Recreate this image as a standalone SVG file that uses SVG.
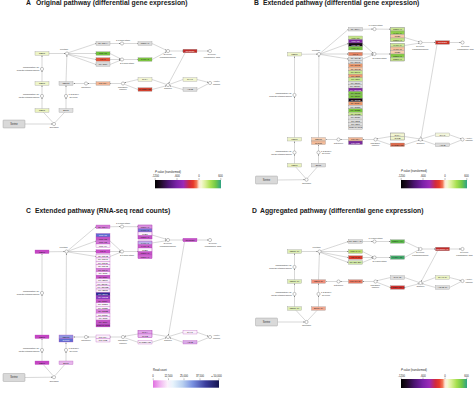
<svg xmlns="http://www.w3.org/2000/svg" width="474" height="394" viewBox="0 0 474 394">
<style>
text{font-family:"Liberation Sans",Arial,Helvetica,sans-serif}
.ti{font-size:6.8px;font-weight:bold;fill:#1a1a1a}
.ml{font-size:2.35px;fill:#3a3a3a}
.mid{text-anchor:middle}
.end{text-anchor:end}
.bx rect{stroke:#8a8a8a;stroke-width:.3}
.bx text{font-size:2.2px;fill:#222;text-anchor:middle}
.bx text.w{fill:#fff}
.pk rect{stroke:#b24cb8}
.fr{fill:none;stroke:#79ab45;stroke-width:.4}
.fm{fill:none;stroke:#9c3aa6;stroke-width:.4}
.met circle{fill:#fff;stroke:#555;stroke-width:.35}
.e line{stroke:#8f8f8f;stroke-width:.35;fill:none}
.e line.a{marker-end:url(#ar)}
.lg text{font-size:2.7px;fill:#222}
.lg line{stroke:#333;stroke-width:.3}
.ser rect{fill:#d9d9d9;stroke:#8a8a8a;stroke-width:.35}
.ser text{font-size:2.6px;fill:#333;text-anchor:middle}
</style>
<defs>
<marker id="ar" viewBox="0 0 4 4" refX="3.6" refY="2" markerWidth="1.5" markerHeight="1.5" markerUnits="userSpaceOnUse" orient="auto"><path d="M0,0.3 L4,2 L0,3.7z" fill="#707070"/></marker>
<linearGradient id="pv" x1="0" y1="0" x2="1" y2="0">
<stop offset="0" stop-color="#000"/><stop offset=".08" stop-color="#1c0a22"/><stop offset=".2" stop-color="#4a1470"/><stop offset=".33" stop-color="#7a22a8"/><stop offset=".43" stop-color="#9a2ab8"/><stop offset=".52" stop-color="#d02a40"/><stop offset=".58" stop-color="#e83a2a"/><stop offset=".63" stop-color="#f27a58"/><stop offset=".667" stop-color="#fde8d8"/><stop offset=".7" stop-color="#f6f8d4"/><stop offset=".76" stop-color="#dcf09a"/><stop offset=".84" stop-color="#a8e050"/><stop offset=".92" stop-color="#70c848"/><stop offset="1" stop-color="#2ea284"/>
</linearGradient>
<linearGradient id="rc" x1="0" y1="0" x2="1" y2="0">
<stop offset="0" stop-color="#e070e0"/><stop offset=".1" stop-color="#f0b0f0"/><stop offset=".22" stop-color="#fbf0fb"/><stop offset=".3" stop-color="#e8f4fc"/><stop offset=".45" stop-color="#b8d0f0"/><stop offset=".6" stop-color="#7890e0"/><stop offset=".8" stop-color="#3a3c9c"/><stop offset="1" stop-color="#141450"/>
</linearGradient>
</defs>
<rect width="474" height="394" fill="#fff"/>

<!-- ================= PANEL A ================= -->
<g id="panelA">
<text class="ti" x="26" y="4.8">A</text>
<text class="ti" x="36" y="4.8">Original pathway (differential gene expression)</text>
<g id="A-connectors" class="e">
<line class="a" x1="25" y1="124" x2="52.3" y2="124"/>
<line x1="53" y1="122.6" x2="43.5" y2="112.4"/>
<line class="a" x1="42" y1="108.8" x2="42" y2="97.7"/>
<line class="a" x1="42" y1="94.4" x2="42" y2="85.4"/>
<line class="a" x1="42" y1="81.8" x2="42" y2="70.7"/>
<line class="a" x1="42" y1="67.4" x2="42" y2="55.4"/>
<line class="a" x1="49" y1="53.5" x2="65.3" y2="53.5"/>
<line x1="55" y1="122.6" x2="64.5" y2="112.4"/>
<line class="a" x1="66" y1="108.8" x2="66" y2="97.7"/>
<line class="a" x1="66" y1="94.4" x2="66" y2="85.4"/>
<line class="a" x1="66" y1="81.8" x2="66.9" y2="55.2"/>
<line class="a" x1="84.3" y1="83.5" x2="73.6" y2="83.5"/>
<line class="a" x1="96" y1="83.5" x2="87.7" y2="83.5"/>
<line class="a" x1="121.3" y1="83.5" x2="110.1" y2="83.5"/>
<line class="a" x1="138" y1="79.5" x2="124.5" y2="82.7"/>
<line x1="124.5" y1="84.3" x2="138" y2="89.5"/>
<line x1="166.4" y1="84.4" x2="152" y2="79.5"/>
<line class="a" x1="152" y1="89.5" x2="166.4" y2="85.8"/>
<line x1="169.6" y1="84.4" x2="183" y2="79.5"/>
<line class="a" x1="197" y1="79.5" x2="208.4" y2="82.4"/>
<line x1="208.4" y1="83.7" x2="197" y2="89.5"/>
<line class="a" x1="183" y1="89.5" x2="169.6" y2="85.8"/>
<line class="a" x1="185" y1="53" x2="168.7" y2="83.5"/>
<line class="a" x1="68.4" y1="52.7" x2="96" y2="43.5"/>
<line class="a" x1="68.7" y1="53.5" x2="96" y2="53.5"/>
<line class="a" x1="68.5" y1="54.2" x2="96" y2="59.5"/>
<line class="a" x1="68.3" y1="54.6" x2="96" y2="64.5"/>
<line class="a" x1="110" y1="43.5" x2="120.3" y2="43.5"/>
<line class="a" x1="110" y1="53.5" x2="120.5" y2="58.8"/>
<line class="a" x1="110" y1="59.5" x2="120.3" y2="59.5"/>
<line class="a" x1="110" y1="64.5" x2="120.5" y2="60.2"/>
<line class="a" x1="123.7" y1="43.5" x2="138" y2="43.5"/>
<line class="a" x1="123.7" y1="59.5" x2="138" y2="59.5"/>
<line class="a" x1="152" y1="43.5" x2="166.5" y2="50.3"/>
<line class="a" x1="152" y1="59.5" x2="166.5" y2="51.7"/>
<line class="a" x1="169.7" y1="51" x2="183" y2="51"/>
<line class="a" x1="197" y1="51" x2="208.3" y2="51"/>
</g>
<g class="met">
<g id="A-lecithin"><circle cx="67" cy="53.5" r="1.6"/><text class="ml mid" x="64" y="50.3">Lecithin</text></g>
<g id="A-lyso1"><circle cx="122" cy="43.5" r="1.6"/><text class="ml mid" x="123" y="40.6">1-Lysolecithin</text></g>
<g id="A-lyso2"><circle cx="122" cy="59.5" r="1.6"/><text class="ml mid" x="127" y="64.2">2-Lysolecithin</text></g>
<g id="A-gpc"><circle cx="168" cy="51" r="1.6"/><text class="ml mid" x="168" y="55.4">Glycero-</text><text class="ml mid" x="168" y="58">phosphocholine</text></g>
<g id="A-gpa"><circle cx="210" cy="51" r="1.6"/><text class="ml mid" x="212" y="55.4">Glycero-</text><text class="ml mid" x="212" y="58">phosphoric acid</text></g>
<g id="A-citicoline"><circle cx="86" cy="83.5" r="1.6"/><text class="ml mid" x="86" y="87.6">Citicoline</text></g>
<g id="A-phosphocholine"><circle cx="123" cy="83.5" r="1.6"/><text class="ml mid" x="123" y="87.6">Phospho-</text><text class="ml mid" x="123" y="90.2">choline</text></g>
<g id="A-choline"><circle cx="168" cy="85" r="1.6"/><text class="ml mid" x="168" y="89.1">Choline</text></g>
<g id="A-acetylcholine"><circle cx="210" cy="83" r="1.6"/><text class="ml" x="213" y="82.1">Acetyl-</text><text class="ml" x="213" y="84.8">choline</text></g>
<g id="A-pdme"><circle cx="42" cy="69" r="1.6"/><text class="ml end" x="39.5" y="68.4">Phosphatidyl-N-</text><text class="ml end" x="39.5" y="71">dimethylethanolamine</text></g>
<g id="A-pme"><circle cx="42" cy="96" r="1.6"/><text class="ml end" x="39.5" y="95.4">Phosphatidyl-N-</text><text class="ml end" x="39.5" y="98">methylethanolamine</text></g>
<g id="A-dg"><circle cx="66" cy="96" r="1.6"/><text class="ml" x="68.5" y="95.3">1,2-Diacyl</text><text class="ml" x="69.5" y="97.9">glycerol</text></g>
<g id="A-cephalin"><circle cx="54" cy="124" r="1.6"/><text class="ml mid" x="54" y="128.4">Cephalin</text></g>
</g>
<g class="bx">
<g id="A-PEMT1"><rect x="35" y="51.75" width="14" height="3.5" fill="#edf4c6"/><text x="42" y="54.3">PEMT</text></g>
<g id="A-PEMT2"><rect x="35" y="81.75" width="14" height="3.5" fill="#eef5c9"/><text x="42" y="84.3">PEMT</text></g>
<g id="A-PEMT3"><rect x="35" y="108.75" width="14" height="3.5" fill="#eaf2be"/><text x="42" y="111.3">PEMT</text></g>
<g id="A-PLA2G4A"><rect x="96" y="41.75" width="14" height="3.5" fill="#dcdcdc"/><text x="103" y="44.3">PLA2G4A</text></g>
<g id="A-LPCAT1"><rect x="96" y="51.75" width="14" height="3.5" fill="#6fc23b"/><text x="103" y="54.3">LPCAT1</text></g>
<g id="A-LCAT"><rect x="96" y="57.75" width="14" height="3.5" fill="#e0553a"/><text x="103" y="60.3">LCAT</text></g>
<g id="A-PLA2G6"><rect x="96" y="62.75" width="14" height="3.5" fill="#dadada"/><text x="103" y="65.3">PLA2G6</text></g>
<g id="A-PNPLA6"><rect x="138" y="41.75" width="14" height="3.5" fill="#dcdcdc"/><text x="145" y="44.3">PNPLA6</text></g>
<g id="A-LYPLA1"><rect x="138" y="57.75" width="14" height="3.5" fill="#7cc540"/><text x="145" y="60.3">LYPLA1</text></g>
<g id="A-GPCPD1"><rect x="183" y="49.25" width="14" height="3.5" fill="#c22a27"/><text class="w" x="190" y="51.8">GPCPD1</text></g>
<g id="A-CEPT1"><rect x="59" y="81.75" width="14" height="3.5" fill="#dcdcdc"/><text x="66" y="84.3">CEPT1</text></g>
<g id="A-PCYT1A"><rect x="96" y="81.75" width="14" height="3.5" fill="#f3b797"/><text x="103" y="84.3">PCYT1A</text></g>
<g id="A-CHKA"><rect x="138" y="77.75" width="14" height="3.5" fill="#f3f6d3"/><text x="145" y="80.3">CHKA</text></g>
<g id="A-PHOSPHO1"><rect x="138" y="87.75" width="14" height="3.5" fill="#d4422f"/><text x="145" y="90.3">PHOSPHO1</text></g>
<g id="A-CHAT"><rect x="183" y="77.75" width="14" height="3.5" fill="#f1f5d0"/><text x="190" y="80.3">CHAT</text></g>
<g id="A-ACHE"><rect x="183" y="87.75" width="14" height="3.5" fill="#dcdcdc"/><text x="190" y="90.3">ACHE</text></g>
<g id="A-EPT1"><rect x="59" y="108.75" width="14" height="3.5" fill="#e0e0e0"/><text x="66" y="111.3">EPT1</text></g>
</g>
<g id="A-serine" class="ser"><rect x="3" y="120" width="22" height="8" rx=".8"/><text x="14" y="124.9">Serine</text></g>
<g id="A-legend" class="lg">
<text x="155" y="172.8"><tspan font-style="italic">P</tspan> value (transformed)</text>
<text class="mid" x="155.5" y="177">-1200</text><text class="mid" x="177" y="177">-600</text><text class="mid" x="199" y="177">0</text><text class="mid" x="220.5" y="177">600</text>
<line x1="155.2" y1="178" x2="155.2" y2="180"/><line x1="177" y1="178" x2="177" y2="180"/><line x1="199" y1="178" x2="199" y2="180"/><line x1="220.8" y1="178" x2="220.8" y2="180"/>
<rect x="155" y="180" width="66" height="8.3" fill="url(#pv)"/>
</g>
</g>

<!-- ================= PANEL B ================= -->
<text class="ti" x="254" y="4.8">B</text>
<text class="ti" x="263" y="4.8">Extended pathway (differential gene expression)</text>
<g id="panelB" transform="translate(252.5,-0.5)">
<g id="B-connectors" class="e">
<line class="a" x1="25" y1="180.5" x2="52.3" y2="180.2"/>
<line x1="53" y1="178.6" x2="43.5" y2="167.8"/>
<line class="a" x1="42" y1="164.2" x2="42" y2="154.7"/>
<line class="a" x1="42" y1="151.4" x2="42" y2="142"/>
<line class="a" x1="42" y1="138.2" x2="42" y2="97.2"/>
<line class="a" x1="42" y1="93.9" x2="42" y2="57"/>
<line class="a" x1="49" y1="54.75" x2="64.8" y2="54.6"/>
<line x1="55" y1="178.6" x2="64.5" y2="167.8"/>
<line class="a" x1="66" y1="164.2" x2="66" y2="154.7"/>
<line class="a" x1="66" y1="151.4" x2="66" y2="145.4"/>
<line class="a" x1="66" y1="138.2" x2="66.4" y2="56.3"/>
<line class="a" x1="84.3" y1="140" x2="73.4" y2="140"/>
<line class="a" x1="96" y1="140" x2="87.7" y2="140"/>
<line class="a" x1="121.3" y1="140" x2="110.1" y2="140"/>
<line class="a" x1="138" y1="137" x2="124.5" y2="139.3"/>
<line x1="124.5" y1="140.7" x2="138" y2="145.25"/>
<line x1="166.4" y1="139.3" x2="152" y2="137"/>
<line class="a" x1="152" y1="145.25" x2="166.4" y2="140.7"/>
<line x1="169.6" y1="139.3" x2="183" y2="135.25"/>
<line class="a" x1="197" y1="135.25" x2="208.4" y2="139.3"/>
<line x1="208.4" y1="140.7" x2="197" y2="145.25"/>
<line class="a" x1="183" y1="145.25" x2="169.6" y2="140.7"/>
<line class="a" x1="184.5" y1="44.8" x2="168.5" y2="138.3"/>
<line class="a" x1="67.9" y1="53.6" x2="96" y2="29.75"/>
<line class="a" x1="68.1" y1="54.2" x2="96" y2="44"/>
<line class="a" x1="68.2" y1="54.5" x2="96" y2="54.5"/>
<line class="a" x1="68.1" y1="55" x2="96" y2="59.5"/>
<line class="a" x1="110" y1="29.75" x2="120.3" y2="29.6"/>
<line class="a" x1="110" y1="44" x2="120.6" y2="53.7"/>
<line class="a" x1="110" y1="54.5" x2="120.3" y2="54.5"/>
<line class="a" x1="110" y1="59.5" x2="120.6" y2="55.3"/>
<line class="a" x1="123.7" y1="29.6" x2="138" y2="29.75"/>
<line class="a" x1="123.7" y1="54.5" x2="138" y2="54.5"/>
<line class="a" x1="152" y1="38" x2="166.5" y2="42.3"/>
<line class="a" x1="152" y1="46" x2="166.5" y2="43.7"/>
<line class="a" x1="169.7" y1="43" x2="183" y2="43"/>
<line class="a" x1="197" y1="43" x2="208.3" y2="43"/>
</g>
<g class="met">
<g id="B-lecithin"><circle cx="66.5" cy="54.5" r="1.6"/><text class="ml mid" x="63.5" y="51.2">Lecithin</text></g>
<g id="B-lyso1"><circle cx="122" cy="29.6" r="1.6"/><text class="ml mid" x="123" y="26.6">1-Lysolecithin</text></g>
<g id="B-lyso2"><circle cx="122" cy="54.5" r="1.6"/><text class="ml mid" x="127" y="59.2">2-Lysolecithin</text></g>
<g id="B-gpc"><circle cx="168" cy="43" r="1.6"/><text class="ml mid" x="168" y="47.4">Glycero-</text><text class="ml mid" x="168" y="50">phosphocholine</text></g>
<g id="B-gpa"><circle cx="210" cy="43" r="1.6"/><text class="ml mid" x="213" y="47.4">Glycero-</text><text class="ml mid" x="213" y="50">phosphoric acid</text></g>
<g id="B-citicoline"><circle cx="86" cy="140" r="1.6"/><text class="ml mid" x="86" y="144.1">Citicoline</text></g>
<g id="B-phosphocholine"><circle cx="123" cy="140" r="1.6"/><text class="ml mid" x="123" y="144.1">Phospho-</text><text class="ml mid" x="123" y="146.7">choline</text></g>
<g id="B-choline"><circle cx="168" cy="140" r="1.6"/><text class="ml mid" x="168" y="144.1">Choline</text></g>
<g id="B-acetylcholine"><circle cx="210" cy="140" r="1.6"/><text class="ml" x="213" y="139.1">Acetyl-</text><text class="ml" x="213" y="141.8">choline</text></g>
<g id="B-pdme"><circle cx="42" cy="95.5" r="1.6"/><text class="ml end" x="39.5" y="94.9">Phosphatidyl-N-</text><text class="ml end" x="39.5" y="97.5">dimethylethanolamine</text></g>
<g id="B-pme"><circle cx="42" cy="153" r="1.6"/><text class="ml end" x="39.5" y="152.4">Phosphatidyl-N-</text><text class="ml end" x="39.5" y="155">methylethanolamine</text></g>
<g id="B-dg"><circle cx="66" cy="153" r="1.6"/><text class="ml" x="68.5" y="152.3">1,2-Diacyl</text><text class="ml" x="69.5" y="154.9">glycerol</text></g>
<g id="B-cephalin"><circle cx="54" cy="180.2" r="1.6"/><text class="ml mid" x="54" y="184.6">Cephalin</text></g>
</g>
<g class="bx">
<g id="B-PEMT1"><rect x="35" y="53" width="14" height="3.5" fill="#edf4c6"/><text x="42" y="55.55">PEMT</text></g>
<g id="B-PEMT2"><rect x="35" y="138" width="14" height="3.5" fill="#edf4c6"/><text x="42" y="140.55">PEMT</text></g>
<g id="B-PEMT3"><rect x="35" y="164" width="14" height="3.5" fill="#eaf2be"/><text x="42" y="166.55">PEMT</text></g>
<g id="B-PLA2G4A"><rect x="96" y="28" width="14" height="3.5" fill="#dcdcdc"/><text x="103" y="30.55">PLA2G4A</text></g>
<g id="B-stack-lyso1">
<rect x="138" y="28" width="14" height="3.5" fill="#c9e690"/><text x="145" y="30.55">PNPLA6</text>
<rect x="138" y="31.5" width="14" height="3.5" fill="#8fd04a"/><text x="145" y="34.05">LYPLA1</text>
<rect x="138" y="35" width="14" height="3.5" fill="#f6c8a6"/><text x="145" y="37.55">PLB1</text>
<rect x="138" y="38.5" width="14" height="3.5" fill="#c2e382"/><text x="145" y="41.05">PNPLA7</text>
<rect class="fr" x="138" y="28" width="14" height="14"/>
</g>
<g id="B-stack-lyso2">
<rect x="138" y="44" width="14" height="3.5" fill="#cbe794"/><text x="145" y="46.55">LYPLA1</text>
<rect x="138" y="47.5" width="14" height="3.5" fill="#f5c19c"/><text x="145" y="50.05">LYPLA2</text>
<rect x="138" y="51" width="14" height="3.5" fill="#f7cfb0"/><text x="145" y="53.55">PLB1</text>
<rect x="138" y="54.5" width="14" height="3.5" fill="#84cc42"/><text x="145" y="57.05">PNPLA8</text>
<rect x="138" y="58" width="14" height="3.5" fill="#c6e588"/><text x="145" y="60.55">PNPLA6</text>
<rect class="fr" x="138" y="44" width="14" height="17.5"/>
</g>
<g id="B-GPCPD1"><rect x="183" y="41.25" width="14" height="3.5" fill="#c83226"/><text class="w" x="190" y="43.8">GPCPD1</text></g>
<g id="B-stack-LPCAT">
<rect x="96" y="36.5" width="14" height="3.5" fill="#c4e488"/><text x="103" y="39.05">LPCAT1</text>
<rect x="96" y="40" width="14" height="3.5" fill="#7e26a2"/><text class="w" x="103" y="42.55">LPCAT2</text>
<rect x="96" y="43.5" width="14" height="3.5" fill="#140814"/><text class="w" x="103" y="46.05">LPCAT3</text>
<rect x="96" y="47" width="14" height="3.5" fill="#74c63e"/><text x="103" y="49.55">LPCAT4</text>
</g>
<g id="B-LCAT"><rect x="96" y="52.75" width="14" height="3.5" fill="#e5805f"/><text x="103" y="55.3">LCAT</text></g>
<g id="B-stack-PLA2G">
<rect x="96" y="57.5" width="14" height="3.45" fill="#dedede"/><text x="103" y="59.95">PLA2G4B</text>
<rect x="96" y="60.95" width="14" height="3.45" fill="#dedede"/><text x="103" y="63.4">PLA2G4C</text>
<rect x="96" y="64.4" width="14" height="3.45" fill="#ee9a6e"/><text x="103" y="66.85">PLA2G4D</text>
<rect x="96" y="67.85" width="14" height="3.45" fill="#f6c7a4"/><text x="103" y="70.3">PLA2G4E</text>
<rect x="96" y="71.3" width="14" height="3.45" fill="#c8e68e"/><text x="103" y="73.75">PLA2G4F</text>
<rect x="96" y="74.75" width="14" height="3.45" fill="#ee9a6e"/><text x="103" y="77.2">PLA2G5</text>
<rect x="96" y="78.2" width="14" height="3.45" fill="#c8e68e"/><text x="103" y="80.65">PLA2G6</text>
<rect x="96" y="81.65" width="14" height="3.45" fill="#dedede"/><text x="103" y="84.1">PLA2G10</text>
<rect x="96" y="85.1" width="14" height="3.45" fill="#dedede"/><text x="103" y="87.55">PLA2G12A</text>
<rect x="96" y="88.55" width="14" height="3.45" fill="#7e24a0"/><text class="w" x="103" y="91">PLA2G12B</text>
<rect x="96" y="92" width="14" height="3.45" fill="#7cc840"/><text x="103" y="94.45">PLA2G15</text>
<rect x="96" y="95.45" width="14" height="3.45" fill="#7cc840"/><text x="103" y="97.9">PLA2G16</text>
<rect x="96" y="98.9" width="14" height="3.45" fill="#150815"/><text class="w" x="103" y="101.35">PLA2G1B</text>
<rect x="96" y="102.35" width="14" height="3.45" fill="#ee9a6e"/><text x="103" y="104.8">PLA2G2A</text>
<rect x="96" y="105.8" width="14" height="3.45" fill="#dedede"/><text x="103" y="108.25">PLA2G2C</text>
<rect x="96" y="109.25" width="14" height="3.45" fill="#7cc840"/><text x="103" y="111.7">PLA2G2D</text>
<rect x="96" y="112.7" width="14" height="3.45" fill="#c8e68e"/><text x="103" y="115.15">PLA2G2E</text>
<rect x="96" y="116.15" width="14" height="3.45" fill="#dedede"/><text x="103" y="118.6">PLA2G2F</text>
<rect x="96" y="119.6" width="14" height="3.45" fill="#dedede"/><text x="103" y="122.05">PLA2G3</text>
<rect x="96" y="123.05" width="14" height="3.45" fill="#dedede"/><text x="103" y="125.5">PLA2G7</text>
<rect x="96" y="126.5" width="14" height="3.45" fill="#dedede"/><text x="103" y="128.95" textLength="13" lengthAdjust="spacingAndGlyphs">JMJD7-PLA2G4B</text>
</g>
<g id="B-stack-CEPT">
<rect x="59" y="138" width="14" height="3.5" fill="#f7ceb2"/><text x="66" y="140.55">CEPT1</text>
<rect x="59" y="141.5" width="14" height="3.5" fill="#f3ba98"/><text x="66" y="144.05">CHPT1</text>
</g>
<g id="B-stack-PCYT">
<rect x="96" y="138" width="14" height="3.5" fill="#f1b695"/><text x="103" y="140.55">PCYT1A</text>
<rect x="96" y="141.5" width="14" height="3.5" fill="#7a2a9c"/><text class="w" x="103" y="144.05">PCYT1B</text>
</g>
<g id="B-stack-CHK">
<rect x="138" y="133.5" width="14" height="3.5" fill="#f3f6d2"/><text x="145" y="136.05">CHKA</text>
<rect x="138" y="137" width="14" height="3.5" fill="#eef4c8"/><text x="145" y="139.55">CHKB</text>
<rect class="fr" x="138" y="133.5" width="14" height="7"/>
</g>
<g id="B-PHOSPHO1"><rect x="138" y="143.5" width="14" height="3.5" fill="#e06a4c"/><text x="145" y="146.05">PHOSPHO1</text></g>
<g id="B-CHAT"><rect x="183" y="133.5" width="14" height="3.5" fill="#f4f7dc"/><text x="190" y="136.05">CHAT</text></g>
<g id="B-ACHE"><rect x="183" y="143.5" width="14" height="3.5" fill="#dcdcdc"/><text x="190" y="146.05">ACHE</text></g>
<g id="B-EPT1"><rect x="59" y="164" width="14" height="3.5" fill="#dcdcdc"/><text x="66" y="166.55">EPT1</text></g>
</g>
<g id="B-serine" class="ser"><rect x="3" y="176.5" width="22" height="8" rx=".8"/><text x="14" y="181.4">Serine</text></g>
</g>
<g id="B-legend" class="lg">
<text x="401" y="172.3"><tspan font-style="italic">P</tspan> value (transformed)</text>
<text class="mid" x="401.5" y="177">-1200</text><text class="mid" x="423" y="177">-600</text><text class="mid" x="445" y="177">0</text><text class="mid" x="466.5" y="177">600</text>
<line x1="401.2" y1="178" x2="401.2" y2="180"/><line x1="423" y1="178" x2="423" y2="180"/><line x1="445" y1="178" x2="445" y2="180"/><line x1="466.8" y1="178" x2="466.8" y2="180"/>
<rect x="401" y="180" width="66" height="8.3" fill="url(#pv)"/>
</g>

<!-- ================= PANEL C ================= -->
<text class="ti" x="26" y="213">C</text>
<text class="ti" x="35" y="213">Extended pathway (RNA-seq read counts)</text>
<g id="panelC" transform="translate(0,197)">
<g id="C-connectors" class="e">
<line class="a" x1="25" y1="180.5" x2="52.3" y2="180.2"/>
<line x1="53" y1="178.6" x2="43.5" y2="167.8"/>
<line class="a" x1="42" y1="164.2" x2="42" y2="154.7"/>
<line class="a" x1="42" y1="151.4" x2="42" y2="142"/>
<line class="a" x1="42" y1="138.2" x2="42" y2="97.7"/>
<line class="a" x1="42" y1="94.4" x2="42" y2="57"/>
<line class="a" x1="49" y1="54.75" x2="64.8" y2="54.6"/>
<line x1="55" y1="178.6" x2="64.5" y2="167.8"/>
<line class="a" x1="66" y1="164.2" x2="66" y2="154.7"/>
<line class="a" x1="66" y1="151.4" x2="66" y2="145.4"/>
<line class="a" x1="66" y1="138.2" x2="66.4" y2="56.3"/>
<line class="a" x1="84.3" y1="140" x2="73.4" y2="140"/>
<line class="a" x1="96" y1="140" x2="87.7" y2="140"/>
<line class="a" x1="121.3" y1="140" x2="110.1" y2="140"/>
<line class="a" x1="138" y1="137" x2="124.5" y2="139.3"/>
<line x1="124.5" y1="140.7" x2="138" y2="145.25"/>
<line x1="166.4" y1="139.3" x2="152" y2="137"/>
<line class="a" x1="152" y1="145.25" x2="166.4" y2="140.7"/>
<line x1="169.6" y1="139.3" x2="183" y2="135.25"/>
<line class="a" x1="197" y1="135.25" x2="208.4" y2="139.3"/>
<line x1="208.4" y1="140.7" x2="197" y2="145.25"/>
<line class="a" x1="183" y1="145.25" x2="169.6" y2="140.7"/>
<line class="a" x1="184.5" y1="44.8" x2="168.5" y2="138.3"/>
<line class="a" x1="67.9" y1="53.6" x2="96" y2="29.75"/>
<line class="a" x1="68.1" y1="54.2" x2="96" y2="44"/>
<line class="a" x1="68.2" y1="54.5" x2="96" y2="54.5"/>
<line class="a" x1="68.1" y1="55" x2="96" y2="59.5"/>
<line class="a" x1="110" y1="29.75" x2="120.3" y2="29.6"/>
<line class="a" x1="110" y1="44" x2="120.6" y2="53.7"/>
<line class="a" x1="110" y1="54.5" x2="120.3" y2="54.5"/>
<line class="a" x1="110" y1="59.5" x2="120.6" y2="55.3"/>
<line class="a" x1="123.7" y1="29.6" x2="138" y2="29.75"/>
<line class="a" x1="123.7" y1="54.5" x2="138" y2="54.5"/>
<line class="a" x1="152" y1="38" x2="166.5" y2="42.3"/>
<line class="a" x1="152" y1="46" x2="166.5" y2="43.7"/>
<line class="a" x1="169.7" y1="43" x2="183" y2="43"/>
<line class="a" x1="197" y1="43" x2="208.3" y2="43"/>
</g>
<g class="met">
<g id="C-lecithin"><circle cx="66.5" cy="54.5" r="1.6"/><text class="ml mid" x="63.5" y="51.2">Lecithin</text></g>
<g id="C-lyso1"><circle cx="122" cy="29.6" r="1.6"/><text class="ml mid" x="123" y="26.6">1-Lysolecithin</text></g>
<g id="C-lyso2"><circle cx="122" cy="54.5" r="1.6"/><text class="ml mid" x="127" y="59.2">2-Lysolecithin</text></g>
<g id="C-gpc"><circle cx="168" cy="43" r="1.6"/><text class="ml mid" x="168" y="47.4">Glycero-</text><text class="ml mid" x="168" y="50">phosphocholine</text></g>
<g id="C-gpa"><circle cx="210" cy="43" r="1.6"/><text class="ml mid" x="213" y="47.4">Glycero-</text><text class="ml mid" x="213" y="50">phosphoric acid</text></g>
<g id="C-citicoline"><circle cx="86" cy="140" r="1.6"/><text class="ml mid" x="86" y="144.1">Citicoline</text></g>
<g id="C-phosphocholine"><circle cx="123" cy="140" r="1.6"/><text class="ml mid" x="123" y="144.1">Phospho-</text><text class="ml mid" x="123" y="146.7">choline</text></g>
<g id="C-choline"><circle cx="168" cy="140" r="1.6"/><text class="ml mid" x="168" y="144.1">Choline</text></g>
<g id="C-acetylcholine"><circle cx="210" cy="140" r="1.6"/><text class="ml" x="213" y="139.1">Acetyl-</text><text class="ml" x="213" y="141.8">choline</text></g>
<g id="C-pdme"><circle cx="42" cy="96" r="1.6"/><text class="ml end" x="39.5" y="95.4">Phosphatidyl-N-</text><text class="ml end" x="39.5" y="98">dimethylethanolamine</text></g>
<g id="C-pme"><circle cx="42" cy="153" r="1.6"/><text class="ml end" x="39.5" y="152.4">Phosphatidyl-N-</text><text class="ml end" x="39.5" y="155">methylethanolamine</text></g>
<g id="C-dg"><circle cx="66" cy="153" r="1.6"/><text class="ml" x="68.5" y="152.3">1,2-Diacyl</text><text class="ml" x="69.5" y="154.9">glycerol</text></g>
<g id="C-cephalin"><circle cx="54" cy="180.2" r="1.6"/><text class="ml mid" x="54" y="184.6">Cephalin</text></g>
</g>
<g class="bx pk">
<g id="C-PEMT1"><rect x="35" y="53" width="14" height="3.5" fill="#c545c4"/><text x="42" y="55.55">PEMT</text></g>
<g id="C-PEMT2"><rect x="35" y="138" width="14" height="3.5" fill="#c545c4"/><text x="42" y="140.55">PEMT</text></g>
<g id="C-PEMT3"><rect x="35" y="164" width="14" height="3.5" fill="#c545c4"/><text x="42" y="166.55">PEMT</text></g>
<g id="C-PLA2G4A"><rect x="96" y="28" width="14" height="3.5" fill="#d47ad6"/><text x="103" y="30.55">PLA2G4A</text></g>
<g id="C-stack-lyso1">
<rect x="138" y="28" width="14" height="3.5" fill="#d990e0"/><text x="145" y="30.55">PNPLA6</text>
<rect x="138" y="31.5" width="14" height="3.5" fill="#7276d2"/><text x="145" y="34.05">LYPLA1</text>
<rect x="138" y="35" width="14" height="3.5" fill="#fbf1fb"/><text x="145" y="37.55">PLB1</text>
<rect x="138" y="38.5" width="14" height="3.5" fill="#c452c6"/><text x="145" y="41.05">PNPLA7</text>
<rect class="fm" x="138" y="28" width="14" height="14"/>
</g>
<g id="C-stack-lyso2">
<rect x="138" y="44" width="14" height="3.5" fill="#b9b2e9"/><text x="145" y="46.55">LYPLA1</text>
<rect x="138" y="47.5" width="14" height="3.5" fill="#c95ac9"/><text x="145" y="50.05">LYPLA2</text>
<rect x="138" y="51" width="14" height="3.5" fill="#fbf1fb"/><text x="145" y="53.55">PLB1</text>
<rect x="138" y="54.5" width="14" height="3.5" fill="#c452c6"/><text x="145" y="57.05">PNPLA8</text>
<rect x="138" y="58" width="14" height="3.5" fill="#d066d2"/><text x="145" y="60.55">PNPLA6</text>
<rect class="fm" x="138" y="44" width="14" height="17.5"/>
</g>
<g id="C-GPCPD1"><rect x="183" y="41.25" width="14" height="3.5" fill="#c452c6"/><text x="190" y="43.8">GPCPD1</text></g>
<g id="C-stack-LPCAT">
<rect x="96" y="36.5" width="14" height="3.5" fill="#5c6cd0"/><text class="w" x="103" y="39.05">LPCAT1</text>
<rect x="96" y="40" width="14" height="3.5" fill="#c452c6"/><text x="103" y="42.55">LPCAT2</text>
<rect x="96" y="43.5" width="14" height="3.5" fill="#d276d8"/><text x="103" y="46.05">LPCAT3</text>
<rect x="96" y="47" width="14" height="3.5" fill="#fbf1fb"/><text x="103" y="49.55">LPCAT4</text>
</g>
<g id="C-LCAT"><rect x="96" y="52.75" width="14" height="3.5" fill="#c94ec9"/><text x="103" y="55.3">LCAT</text></g>
<g id="C-stack-PLA2G">
<rect x="96" y="57.5" width="14" height="3.45" fill="#fbf1fb"/><text x="103" y="59.95">PLA2G4B</text>
<rect x="96" y="60.95" width="14" height="3.45" fill="#fbf1fb"/><text x="103" y="63.4">PLA2G4C</text>
<rect x="96" y="64.4" width="14" height="3.45" fill="#fbf1fb"/><text x="103" y="66.85">PLA2G4D</text>
<rect x="96" y="67.85" width="14" height="3.45" fill="#fbf1fb"/><text x="103" y="70.3">PLA2G4E</text>
<rect x="96" y="71.3" width="14" height="3.45" fill="#d77fda"/><text x="103" y="73.75">PLA2G4F</text>
<rect x="96" y="74.75" width="14" height="3.45" fill="#fbf1fb"/><text x="103" y="77.2">PLA2G5</text>
<rect x="96" y="78.2" width="14" height="3.45" fill="#c452c6"/><text x="103" y="80.65">PLA2G6</text>
<rect x="96" y="81.65" width="14" height="3.45" fill="#fbf1fb"/><text x="103" y="84.1">PLA2G10</text>
<rect x="96" y="85.1" width="14" height="3.45" fill="#fbf1fb"/><text x="103" y="87.55">PLA2G12A</text>
<rect x="96" y="88.55" width="14" height="3.45" fill="#fbf1fb"/><text x="103" y="91">PLA2G12B</text>
<rect x="96" y="92" width="14" height="3.45" fill="#fbf1fb"/><text x="103" y="94.45">PLA2G15</text>
<rect x="96" y="95.45" width="14" height="3.45" fill="#2c2e92"/><text class="w" x="103" y="97.9">PLA2G16</text>
<rect x="96" y="98.9" width="14" height="3.45" fill="#8a3cbe"/><text class="w" x="103" y="101.35">PLA2G1B</text>
<rect x="96" y="102.35" width="14" height="3.45" fill="#c452c6"/><text x="103" y="104.8">PLA2G2A</text>
<rect x="96" y="105.8" width="14" height="3.45" fill="#fbf1fb"/><text x="103" y="108.25">PLA2G2C</text>
<rect x="96" y="109.25" width="14" height="3.45" fill="#fbf1fb"/><text x="103" y="111.7">PLA2G2D</text>
<rect x="96" y="112.7" width="14" height="3.45" fill="#d77fda"/><text x="103" y="115.15">PLA2G2E</text>
<rect x="96" y="116.15" width="14" height="3.45" fill="#fbf1fb"/><text x="103" y="118.6">PLA2G2F</text>
<rect x="96" y="119.6" width="14" height="3.45" fill="#fbf1fb"/><text x="103" y="122.05">PLA2G3</text>
<rect x="96" y="123.05" width="14" height="3.45" fill="#c452c6"/><text x="103" y="125.5">PLA2G7</text>
<rect x="96" y="126.5" width="14" height="3.45" fill="#b040b8"/><text x="103" y="128.95" textLength="13" lengthAdjust="spacingAndGlyphs">JMJD7-PLA2G4B</text>
</g>
<g id="C-stack-CEPT">
<rect x="59" y="138" width="14" height="3.5" fill="#9096e2"/><text x="66" y="140.55">CEPT1</text>
<rect x="59" y="141.5" width="14" height="3.5" fill="#5e6ed2"/><text class="w" x="66" y="144.05">CHPT1</text>
</g>
<g id="C-stack-PCYT">
<rect x="96" y="138" width="14" height="3.5" fill="#fbf1fb"/><text x="103" y="140.55">PCYT1A</text>
<rect x="96" y="141.5" width="14" height="3.5" fill="#fbf1fb"/><text x="103" y="144.05">PCYT1B</text>
</g>
<g id="C-stack-CHK">
<rect x="138" y="133.5" width="14" height="3.5" fill="#dfa2e8"/><text x="145" y="136.05">CHKA</text>
<rect x="138" y="137" width="14" height="3.5" fill="#e8b8ee"/><text x="145" y="139.55">CHKB</text>
<rect class="fm" x="138" y="133.5" width="14" height="7"/>
</g>
<g id="C-PHOSPHO1"><rect x="138" y="143.5" width="14" height="3.5" fill="#fbf1fb"/><text x="145" y="146.05">PHOSPHO1</text></g>
<g id="C-CHAT"><rect x="183" y="133.5" width="14" height="3.5" fill="#fbf1fb"/><text x="190" y="136.05">CHAT</text></g>
<g id="C-ACHE"><rect x="183" y="143.5" width="14" height="3.5" fill="#d9aae8"/><text x="190" y="146.05">ACHE</text></g>
<g id="C-EPT1"><rect x="59" y="164" width="14" height="3.5" fill="#e6b6ea"/><text x="66" y="166.55">EPT1</text></g>
</g>
<g id="C-serine" class="ser"><rect x="3" y="176.5" width="22" height="8" rx=".8"/><text x="14" y="181.4">Serine</text></g>
</g>
<g id="C-legend" class="lg">
<text x="153" y="371">Read count</text>
<text class="mid" x="153" y="376.5">0</text><text class="mid" x="168.5" y="376.5">12,500</text><text class="mid" x="184" y="376.5">25,000</text><text class="mid" x="200" y="376.5">37,500</text><text class="mid" x="216.5" y="376.5">≥ 50,000</text>
<line x1="153.2" y1="378.3" x2="153.2" y2="380.3"/><line x1="168.5" y1="378.3" x2="168.5" y2="380.3"/><line x1="184" y1="378.3" x2="184" y2="380.3"/><line x1="200" y1="378.3" x2="200" y2="380.3"/><line x1="218.8" y1="378.3" x2="218.8" y2="380.3"/>
<rect x="153" y="380.3" width="66" height="7.4" fill="url(#rc)"/>
</g>

<!-- ================= PANEL D ================= -->
<text class="ti" x="252" y="213">D</text>
<text class="ti" x="260" y="213">Aggregated pathway (differential gene expression)</text>
<g id="panelD" transform="translate(252.5,198)">
<g id="D-connectors" class="e">
<line class="a" x1="25" y1="124" x2="52.3" y2="124"/>
<line x1="53" y1="122.6" x2="43.5" y2="112.4"/>
<line class="a" x1="42" y1="108.8" x2="42" y2="97.7"/>
<line class="a" x1="42" y1="94.4" x2="42" y2="85.4"/>
<line class="a" x1="42" y1="81.8" x2="42" y2="70.7"/>
<line class="a" x1="42" y1="67.4" x2="42" y2="55.4"/>
<line class="a" x1="49" y1="53.5" x2="65.3" y2="53.5"/>
<line x1="55" y1="122.6" x2="64.5" y2="112.4"/>
<line class="a" x1="66" y1="108.8" x2="66" y2="97.7"/>
<line class="a" x1="66" y1="94.4" x2="66" y2="85.4"/>
<line class="a" x1="66" y1="81.8" x2="66.9" y2="55.2"/>
<line class="a" x1="84.3" y1="83.5" x2="73.6" y2="83.5"/>
<line class="a" x1="96" y1="83.5" x2="87.7" y2="83.5"/>
<line class="a" x1="121.3" y1="83.5" x2="110.1" y2="83.5"/>
<line class="a" x1="138" y1="79.5" x2="124.5" y2="82.7"/>
<line x1="124.5" y1="84.3" x2="138" y2="89.5"/>
<line x1="166.4" y1="84.4" x2="152" y2="79.5"/>
<line class="a" x1="152" y1="89.5" x2="166.4" y2="85.8"/>
<line x1="169.6" y1="84.4" x2="183" y2="79.5"/>
<line class="a" x1="197" y1="79.5" x2="208.4" y2="82.4"/>
<line x1="208.4" y1="83.7" x2="197" y2="89.5"/>
<line class="a" x1="183" y1="89.5" x2="169.6" y2="85.8"/>
<line class="a" x1="185" y1="53" x2="168.7" y2="83.5"/>
<line class="a" x1="68.4" y1="52.7" x2="96" y2="43.5"/>
<line class="a" x1="68.7" y1="53.5" x2="96" y2="53.5"/>
<line class="a" x1="68.5" y1="54.2" x2="96" y2="59.5"/>
<line class="a" x1="68.3" y1="54.6" x2="96" y2="64.5"/>
<line class="a" x1="110" y1="43.5" x2="120.3" y2="43.5"/>
<line class="a" x1="110" y1="53.5" x2="120.5" y2="58.8"/>
<line class="a" x1="110" y1="59.5" x2="120.3" y2="59.5"/>
<line class="a" x1="110" y1="64.5" x2="120.5" y2="60.2"/>
<line class="a" x1="123.7" y1="43.5" x2="138" y2="43.5"/>
<line class="a" x1="123.7" y1="59.5" x2="138" y2="59.5"/>
<line class="a" x1="152" y1="43.5" x2="166.5" y2="50.3"/>
<line class="a" x1="152" y1="59.5" x2="166.5" y2="51.7"/>
<line class="a" x1="169.7" y1="51" x2="183" y2="51"/>
<line class="a" x1="197" y1="51" x2="208.3" y2="51"/>
</g>
<g class="met">
<g id="D-lecithin"><circle cx="67" cy="53.5" r="1.6"/><text class="ml mid" x="64" y="50.3">Lecithin</text></g>
<g id="D-lyso1"><circle cx="122" cy="43.5" r="1.6"/><text class="ml mid" x="123" y="40.6">1-Lysolecithin</text></g>
<g id="D-lyso2"><circle cx="122" cy="59.5" r="1.6"/><text class="ml mid" x="127" y="64.2">2-Lysolecithin</text></g>
<g id="D-gpc"><circle cx="168" cy="51" r="1.6"/><text class="ml mid" x="168" y="55.4">Glycero-</text><text class="ml mid" x="168" y="58">phosphocholine</text></g>
<g id="D-gpa"><circle cx="210" cy="51" r="1.6"/><text class="ml mid" x="212" y="55.4">Glycero-</text><text class="ml mid" x="212" y="58">phosphoric acid</text></g>
<g id="D-citicoline"><circle cx="86" cy="83.5" r="1.6"/><text class="ml mid" x="86" y="87.6">Citicoline</text></g>
<g id="D-phosphocholine"><circle cx="123" cy="83.5" r="1.6"/><text class="ml mid" x="123" y="87.6">Phospho-</text><text class="ml mid" x="123" y="90.2">choline</text></g>
<g id="D-choline"><circle cx="168" cy="85" r="1.6"/><text class="ml mid" x="168" y="89.1">Choline</text></g>
<g id="D-acetylcholine"><circle cx="210" cy="83" r="1.6"/><text class="ml" x="213" y="82.1">Acetyl-</text><text class="ml" x="213" y="84.8">choline</text></g>
<g id="D-pdme"><circle cx="42" cy="69" r="1.6"/><text class="ml end" x="39.5" y="68.4">Phosphatidyl-N-</text><text class="ml end" x="39.5" y="71">dimethylethanolamine</text></g>
<g id="D-pme"><circle cx="42" cy="96" r="1.6"/><text class="ml end" x="39.5" y="95.4">Phosphatidyl-N-</text><text class="ml end" x="39.5" y="98">methylethanolamine</text></g>
<g id="D-dg"><circle cx="66" cy="96" r="1.6"/><text class="ml" x="68.5" y="95.3">1,2-Diacyl</text><text class="ml" x="69.5" y="97.9">glycerol</text></g>
<g id="D-cephalin"><circle cx="54" cy="124" r="1.6"/><text class="ml mid" x="54" y="128.4">Cephalin</text></g>
</g>
<g class="bx">
<g id="D-PEMT1"><rect x="35" y="51.75" width="14" height="3.5" fill="#dcedb4"/><text x="42" y="54.3">PEMT (1)</text></g>
<g id="D-PEMT2"><rect x="35" y="81.75" width="14" height="3.5" fill="#dcedb4"/><text x="42" y="84.3">PEMT (1)</text></g>
<g id="D-PEMT3"><rect x="35" y="108.75" width="14" height="3.5" fill="#dcedb4"/><text x="42" y="111.3">PEMT (1)</text></g>
<g id="D-PLA2G4A"><rect x="96" y="41.75" width="14" height="3.5" fill="#dcdcdc"/><text x="103" y="44.3">PLA2G4A (1)</text></g>
<g id="D-LPCAT"><rect x="96" y="51.75" width="14" height="3.5" fill="#bcdc6e"/><text x="103" y="54.3">LPCAT (4)</text></g>
<g id="D-LCAT"><rect x="96" y="57.75" width="14" height="3.5" fill="#d9392b"/><text x="103" y="60.3">LCAT (1)</text></g>
<g id="D-PLA2G"><rect x="96" y="62.75" width="14" height="3.5" fill="#cfe8a4"/><text x="103" y="65.3">PLA2G (21)</text></g>
<g id="D-LYSO1"><rect x="138" y="41.75" width="14" height="3.5" fill="#5bb84b"/><text x="145" y="44.3">PNPLA (4)</text></g>
<g id="D-LYSO2"><rect x="138" y="57.75" width="14" height="3.5" fill="#43aa6a"/><text x="145" y="60.3">LYPLA (5)</text></g>
<g id="D-GPCPD1"><rect x="183" y="49.25" width="14" height="3.5" fill="#c22a28"/><text class="w" x="190" y="51.8">GPCPD1 (1)</text></g>
<g id="D-CEPT"><rect x="59" y="81.75" width="14" height="3.5" fill="#f08e7a"/><text x="66" y="84.3">CEPT (2)</text></g>
<g id="D-PCYT"><rect x="96" y="81.75" width="14" height="3.5" fill="#ea7a63"/><text x="103" y="84.3">PCYT1 (2)</text></g>
<g id="D-CHK"><rect x="138" y="77.75" width="14" height="3.5" fill="#dcdcdc"/><text x="145" y="80.3">CHK (2)</text></g>
<g id="D-PHOSPHO1"><rect x="138" y="87.75" width="14" height="3.5" fill="#d02f2d"/><text x="145" y="90.3">PHOSPHO1 (1)</text></g>
<g id="D-CHAT"><rect x="183" y="77.75" width="14" height="3.5" fill="#ebf3c4"/><text x="190" y="80.3">CHAT (1)</text></g>
<g id="D-ACHE"><rect x="183" y="87.75" width="14" height="3.5" fill="#dcdcdc"/><text x="190" y="90.3">ACHE (1)</text></g>
<g id="D-EPT1"><rect x="59" y="108.75" width="14" height="3.5" fill="#f2a78f"/><text x="66" y="111.3">EPT1 (1)</text></g>
</g>
<g id="D-serine" class="ser"><rect x="3" y="120" width="22" height="8" rx=".8"/><text x="14" y="124.9">Serine</text></g>
</g>
<g id="D-legend" class="lg">
<text x="401" y="371.3"><tspan font-style="italic">P</tspan> value (transformed)</text>
<text class="mid" x="401.5" y="376.5">-1200</text><text class="mid" x="423" y="376.5">-600</text><text class="mid" x="445" y="376.5">0</text><text class="mid" x="466.5" y="376.5">600</text>
<line x1="401.2" y1="377.5" x2="401.2" y2="379"/><line x1="423" y1="377.5" x2="423" y2="379"/><line x1="445" y1="377.5" x2="445" y2="379"/><line x1="466.8" y1="377.5" x2="466.8" y2="379"/>
<rect x="401" y="379" width="66" height="9" fill="url(#pv)"/>
</g>
</svg>
